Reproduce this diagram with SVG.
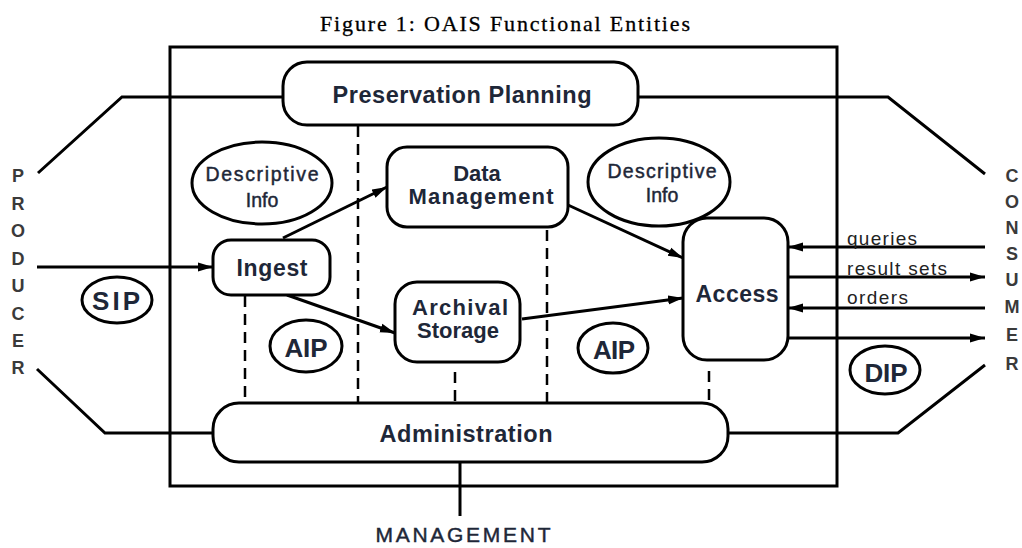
<svg xmlns="http://www.w3.org/2000/svg" width="1022" height="548" viewBox="0 0 1022 548">
<style>
.box{fill:#fff;stroke:#000;stroke-width:3}
.ell{fill:#fff;stroke:#000;stroke-width:3}
.ln{fill:none;stroke:#000;stroke-width:3}
.dash{fill:none;stroke:#000;stroke-width:2.5;stroke-dasharray:11 7}
.t{font-family:"Liberation Sans",Arial,sans-serif;font-weight:bold;fill:#1e2738;text-anchor:middle}
.s{font-family:"Liberation Sans",Arial,sans-serif;fill:#1e2738;stroke:#1e2738;stroke-width:0.45;text-anchor:middle}
.lbl{font-family:"Liberation Sans",Arial,sans-serif;fill:#222;font-size:19px}
.side{font-family:"Liberation Sans",Arial,sans-serif;font-weight:bold;fill:#3a3a3a;font-size:18px;text-anchor:middle}
</style>
<defs>
<marker id="ah" markerUnits="userSpaceOnUse" markerWidth="18" markerHeight="12" refX="15" refY="5" orient="auto">
<path d="M0,0.5 L15,5 L0,9.5 z" fill="#000"/>
</marker>
</defs>
<rect width="1022" height="548" fill="#fff"/>
<text x="505" y="31" font-family="'Liberation Serif','DejaVu Serif',serif" font-size="22" text-anchor="middle" textLength="370" lengthAdjust="spacing" fill="#000" stroke="#000" stroke-width="0.3">Figure 1: OAIS  Functional  Entities</text>

<g id="frame"><rect x="170" y="47" width="667" height="439" fill="none" stroke="#000" stroke-width="3"/></g>

<g id="connectors">
<polyline class="ln" points="283,97 122,97 38,173"/>
<polyline class="ln" points="638,97 888,97 985,174"/>
<polyline class="ln" points="213,433 105,433 37,369"/>
<polyline class="ln" points="728,433 898,433 985,365"/>
<line class="ln" x1="460" y1="462" x2="460" y2="516"/>
<line class="ln" x1="37" y1="267" x2="213" y2="267" marker-end="url(#ah)"/>
<line class="ln" x1="283" y1="238" x2="387" y2="187" marker-end="url(#ah)"/>
<line class="ln" x1="287" y1="295" x2="395" y2="333" marker-end="url(#ah)"/>
<line class="ln" x1="568" y1="205" x2="683" y2="258" marker-end="url(#ah)"/>
<line class="ln" x1="522" y1="319" x2="683" y2="298" marker-end="url(#ah)"/>
<line class="ln" x1="985" y1="247" x2="788" y2="247" marker-end="url(#ah)"/>
<line class="ln" x1="788" y1="277" x2="985" y2="277" marker-end="url(#ah)"/>
<line class="ln" x1="985" y1="308" x2="788" y2="308" marker-end="url(#ah)"/>
<line class="ln" x1="788" y1="338" x2="985" y2="338" marker-end="url(#ah)"/>
<line class="dash" x1="245" y1="296" x2="245" y2="403"/>
<line class="dash" x1="358" y1="126" x2="358" y2="403"/>
<line class="dash" x1="455" y1="372" x2="455" y2="403"/>
<line class="dash" x1="547" y1="230" x2="547" y2="403"/>
<line class="dash" x1="709" y1="371" x2="709" y2="403"/>
<text class="lbl" x="847" y="245" textLength="70" lengthAdjust="spacing">queries</text>
<text class="lbl" x="847" y="275" textLength="100" lengthAdjust="spacing">result sets</text>
<text class="lbl" x="847" y="304" textLength="61" lengthAdjust="spacing">orders</text>
</g>

<g id="preservation-planning">
<rect class="box" x="283" y="62" width="355" height="63" rx="24"/>
<text class="t" x="462" y="103" font-size="23.5" textLength="259" lengthAdjust="spacing">Preservation Planning</text>
</g>
<g id="descriptive-info-1">
<ellipse class="ell" cx="262" cy="183" rx="70" ry="41"/>
<text class="s" x="262" y="181" font-size="19.5" textLength="113" lengthAdjust="spacing">Descriptive</text>
<text class="s" x="262" y="207" font-size="19.5">Info</text>
</g>
<g id="data-management">
<rect class="box" x="387" y="147" width="181" height="80" rx="20"/>
<text class="t" x="477" y="181" font-size="22">Data</text>
<text class="t" x="481" y="204" font-size="22" textLength="145" lengthAdjust="spacing">Management</text>
</g>
<g id="descriptive-info-2">
<ellipse class="ell" cx="659" cy="182" rx="71" ry="44"/>
<text class="s" x="662" y="178" font-size="19.5" textLength="109" lengthAdjust="spacing">Descriptive</text>
<text class="s" x="662" y="202" font-size="19.5">Info</text>
</g>
<g id="ingest">
<rect class="box" x="213" y="240" width="117" height="55" rx="18"/>
<text class="t" x="272" y="276" font-size="23" textLength="71" lengthAdjust="spacing">Ingest</text>
</g>
<g id="archival-storage">
<rect class="box" x="395" y="282" width="125" height="80" rx="22"/>
<text class="t" x="460" y="315" font-size="22" textLength="96" lengthAdjust="spacing">Archival</text>
<text class="t" x="458" y="338" font-size="22">Storage</text>
</g>
<g id="access">
<rect class="box" x="683" y="218" width="105" height="142" rx="24"/>
<text class="t" x="737" y="302" font-size="23" textLength="83" lengthAdjust="spacing">Access</text>
</g>
<g id="administration">
<rect class="box" x="213" y="403" width="515" height="59" rx="26"/>
<text class="t" x="466" y="442" font-size="23.5" textLength="173" lengthAdjust="spacing">Administration</text>
</g>
<g id="sip">
<ellipse class="ell" cx="117" cy="300" rx="35" ry="23"/>
<text class="t" x="116" y="310" font-size="26" textLength="48" lengthAdjust="spacing">SIP</text>
</g>
<g id="aip-1">
<ellipse class="ell" cx="306" cy="346" rx="36" ry="26"/>
<text class="t" x="306" y="357" font-size="26" textLength="43" lengthAdjust="spacing">AIP</text>
</g>
<g id="aip-2">
<ellipse class="ell" cx="613" cy="348" rx="35" ry="25"/>
<text class="t" x="614" y="359" font-size="26" textLength="42" lengthAdjust="spacing">AIP</text>
</g>
<g id="dip">
<ellipse class="ell" cx="885" cy="370" rx="35" ry="24"/>
<text class="t" x="886" y="382" font-size="26" textLength="43" lengthAdjust="spacing">DIP</text>
</g>
<g id="producer">
<text class="side" x="18" y="182">P</text>
<text class="side" x="18" y="210">R</text>
<text class="side" x="18" y="237">O</text>
<text class="side" x="18" y="265">D</text>
<text class="side" x="18" y="292">U</text>
<text class="side" x="18" y="320">C</text>
<text class="side" x="18" y="347">E</text>
<text class="side" x="18" y="374">R</text>
</g>
<g id="consumer">
<text class="side" x="1012" y="182">C</text>
<text class="side" x="1012" y="208">O</text>
<text class="side" x="1012" y="234">N</text>
<text class="side" x="1012" y="260">S</text>
<text class="side" x="1012" y="286">U</text>
<text class="side" x="1012" y="313">M</text>
<text class="side" x="1012" y="341">E</text>
<text class="side" x="1012" y="370">R</text>
</g>
<g id="management">
<text class="s" x="463" y="542" font-size="21" textLength="175" lengthAdjust="spacing" fill="#222" stroke="#222">MANAGEMENT</text>
</g>
</svg>
